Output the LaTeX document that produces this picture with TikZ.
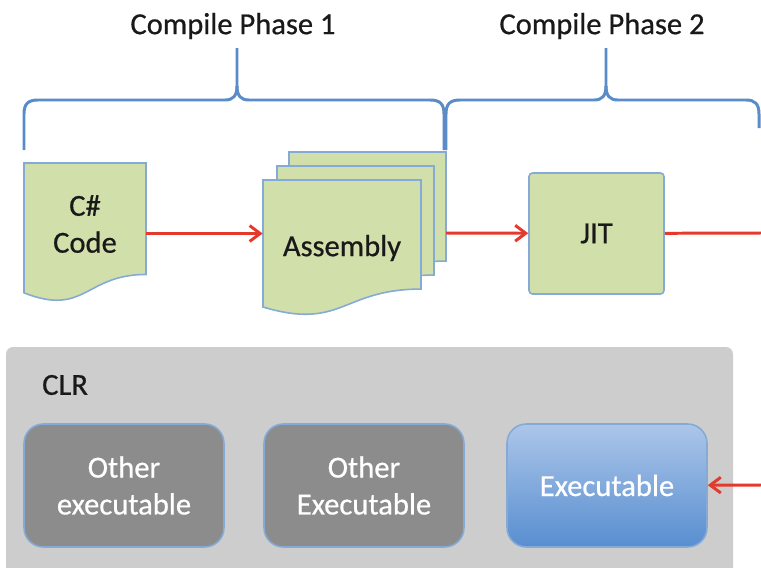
\documentclass[tikz,border=0pt]{standalone}
\usepackage{fontspec}
\setmainfont{Carlito}
\newfontfamily\labelfont[FakeBold=0.6]{Carlito}
\usetikzlibrary{arrows.meta, calc}
\definecolor{docgreen}{RGB}{209,223,170}
\definecolor{docedge}{RGB}{133,170,214}
\definecolor{braceblue}{RGB}{90,140,200}
\definecolor{flowred}{RGB}{228,58,44}
\definecolor{clrgray}{RGB}{205,205,205}
\definecolor{exegray}{RGB}{140,140,140}
\definecolor{exetop}{RGB}{172,198,233}
\definecolor{exebot}{RGB}{88,142,208}
\newcommand{\docshape}[4]{% top-left x, y, width, height
	\filldraw[docpage] (#1,#2) -- ({#1+#3},#2) -- ({#1+#3},{#2+0.802*#4})
	.. controls ({#1+0.5*#3},{#2+0.802*#4}) and ({#1+0.5*#3},{#2+1.1075*#4}) .. (#1,{#2+0.934*#4}) -- cycle;}

\begin{document}
\begin{tikzpicture}[x=0.02cm, y=-0.02cm,
	every node/.style={font=\labelfont\fontsize{17.4}{21}\selectfont, text=black!90},
	docpage/.style={fill=docgreen, draw=docedge, line width=0.9pt},
	brace/.style={draw=braceblue, line width=1.7pt},
	flowline/.style={draw=flowred, line width=1.7pt},
	flow/.style={flowline, -{Straight Barb[length=6pt,width=9pt]}},
	exebox/.style={rounded corners=11pt, draw=docedge, line width=0.9pt, minimum width=4cm, minimum height=2.46cm, text=white, align=center, inner sep=0pt}]
	\useasboundingbox (0,0) rectangle (761,568);
	\node (ph1) at (233,26) {Compile Phase 1};
	\node (ph2) at (602,26) {Compile Phase 2};
	% braces
	\draw[brace] (24,150) -- (24,114) .. controls (24,104) and (28,100) .. (38,100) -- (225,100)
		.. controls (233,100) and (237,96) .. (237,86) -- (237,48);
	\draw[brace] (237,86) .. controls (237,96) and (241,100) .. (249,100) -- (430,100)
		.. controls (440,100) and (444,104) .. (444,114) -- (444,150);
	\draw[brace] (446,150) -- (446,114) .. controls (446,104) and (450,100) .. (460,100) -- (594,100)
		.. controls (602,100) and (606,96) .. (606,86) -- (606,48);
	\draw[brace] (606,86) .. controls (606,96) and (610,100) .. (618,100) -- (746,100)
		.. controls (755,100) and (759,104) .. (759,114) -- (759,128);
	% documents
	\docshape{24}{163}{122}{139}
	\docshape{289}{152}{157}{136}
	\docshape{277}{166}{157}{136}
	\docshape{263}{180}{158}{136}
	\node[align=center, minimum width=2.44cm, inner sep=0pt] (code) at (85,224) {C\#\\Code};
	\node[minimum width=3.16cm, inner sep=0pt] (asm) at (342,248) {Assembly};
	\coordinate (asmback) at (446,233);
	\node[rounded corners=2pt, fill=docgreen, draw=docedge, line width=0.9pt, minimum width=2.7cm, minimum height=2.42cm] (jit) at (596.5,233.5) {JIT};
	\coordinate (edgeR) at (761,233);
	% CLR
	\fill[clrgray] (6,568) [rounded corners=4pt] -- (6,347) -- (733,347) [sharp corners] -- (733,568) -- cycle;
	\node[anchor=west] (clr) at (36,385) {CLR};
	\node[exebox, fill=exegray] (other1) at (124,485.5) {Other\\executable};
	\node[exebox, fill=exegray] (other2) at (364,485.5) {Other\\Executable};
	\node[exebox, top color=exetop, bottom color=exebot] (exe) at (607,485.5) {Executable};
	\coordinate (edgeB) at (761,485);
	% arrows
	\draw[flow] (code.east |- jit) -- (asm.west |- jit);
	\draw[flow] (asmback) -- (jit);
	\draw[flowline] (jit) -- (edgeR);
	\draw[flow] (edgeB) -- (exe);
\end{tikzpicture}
\end{document}
